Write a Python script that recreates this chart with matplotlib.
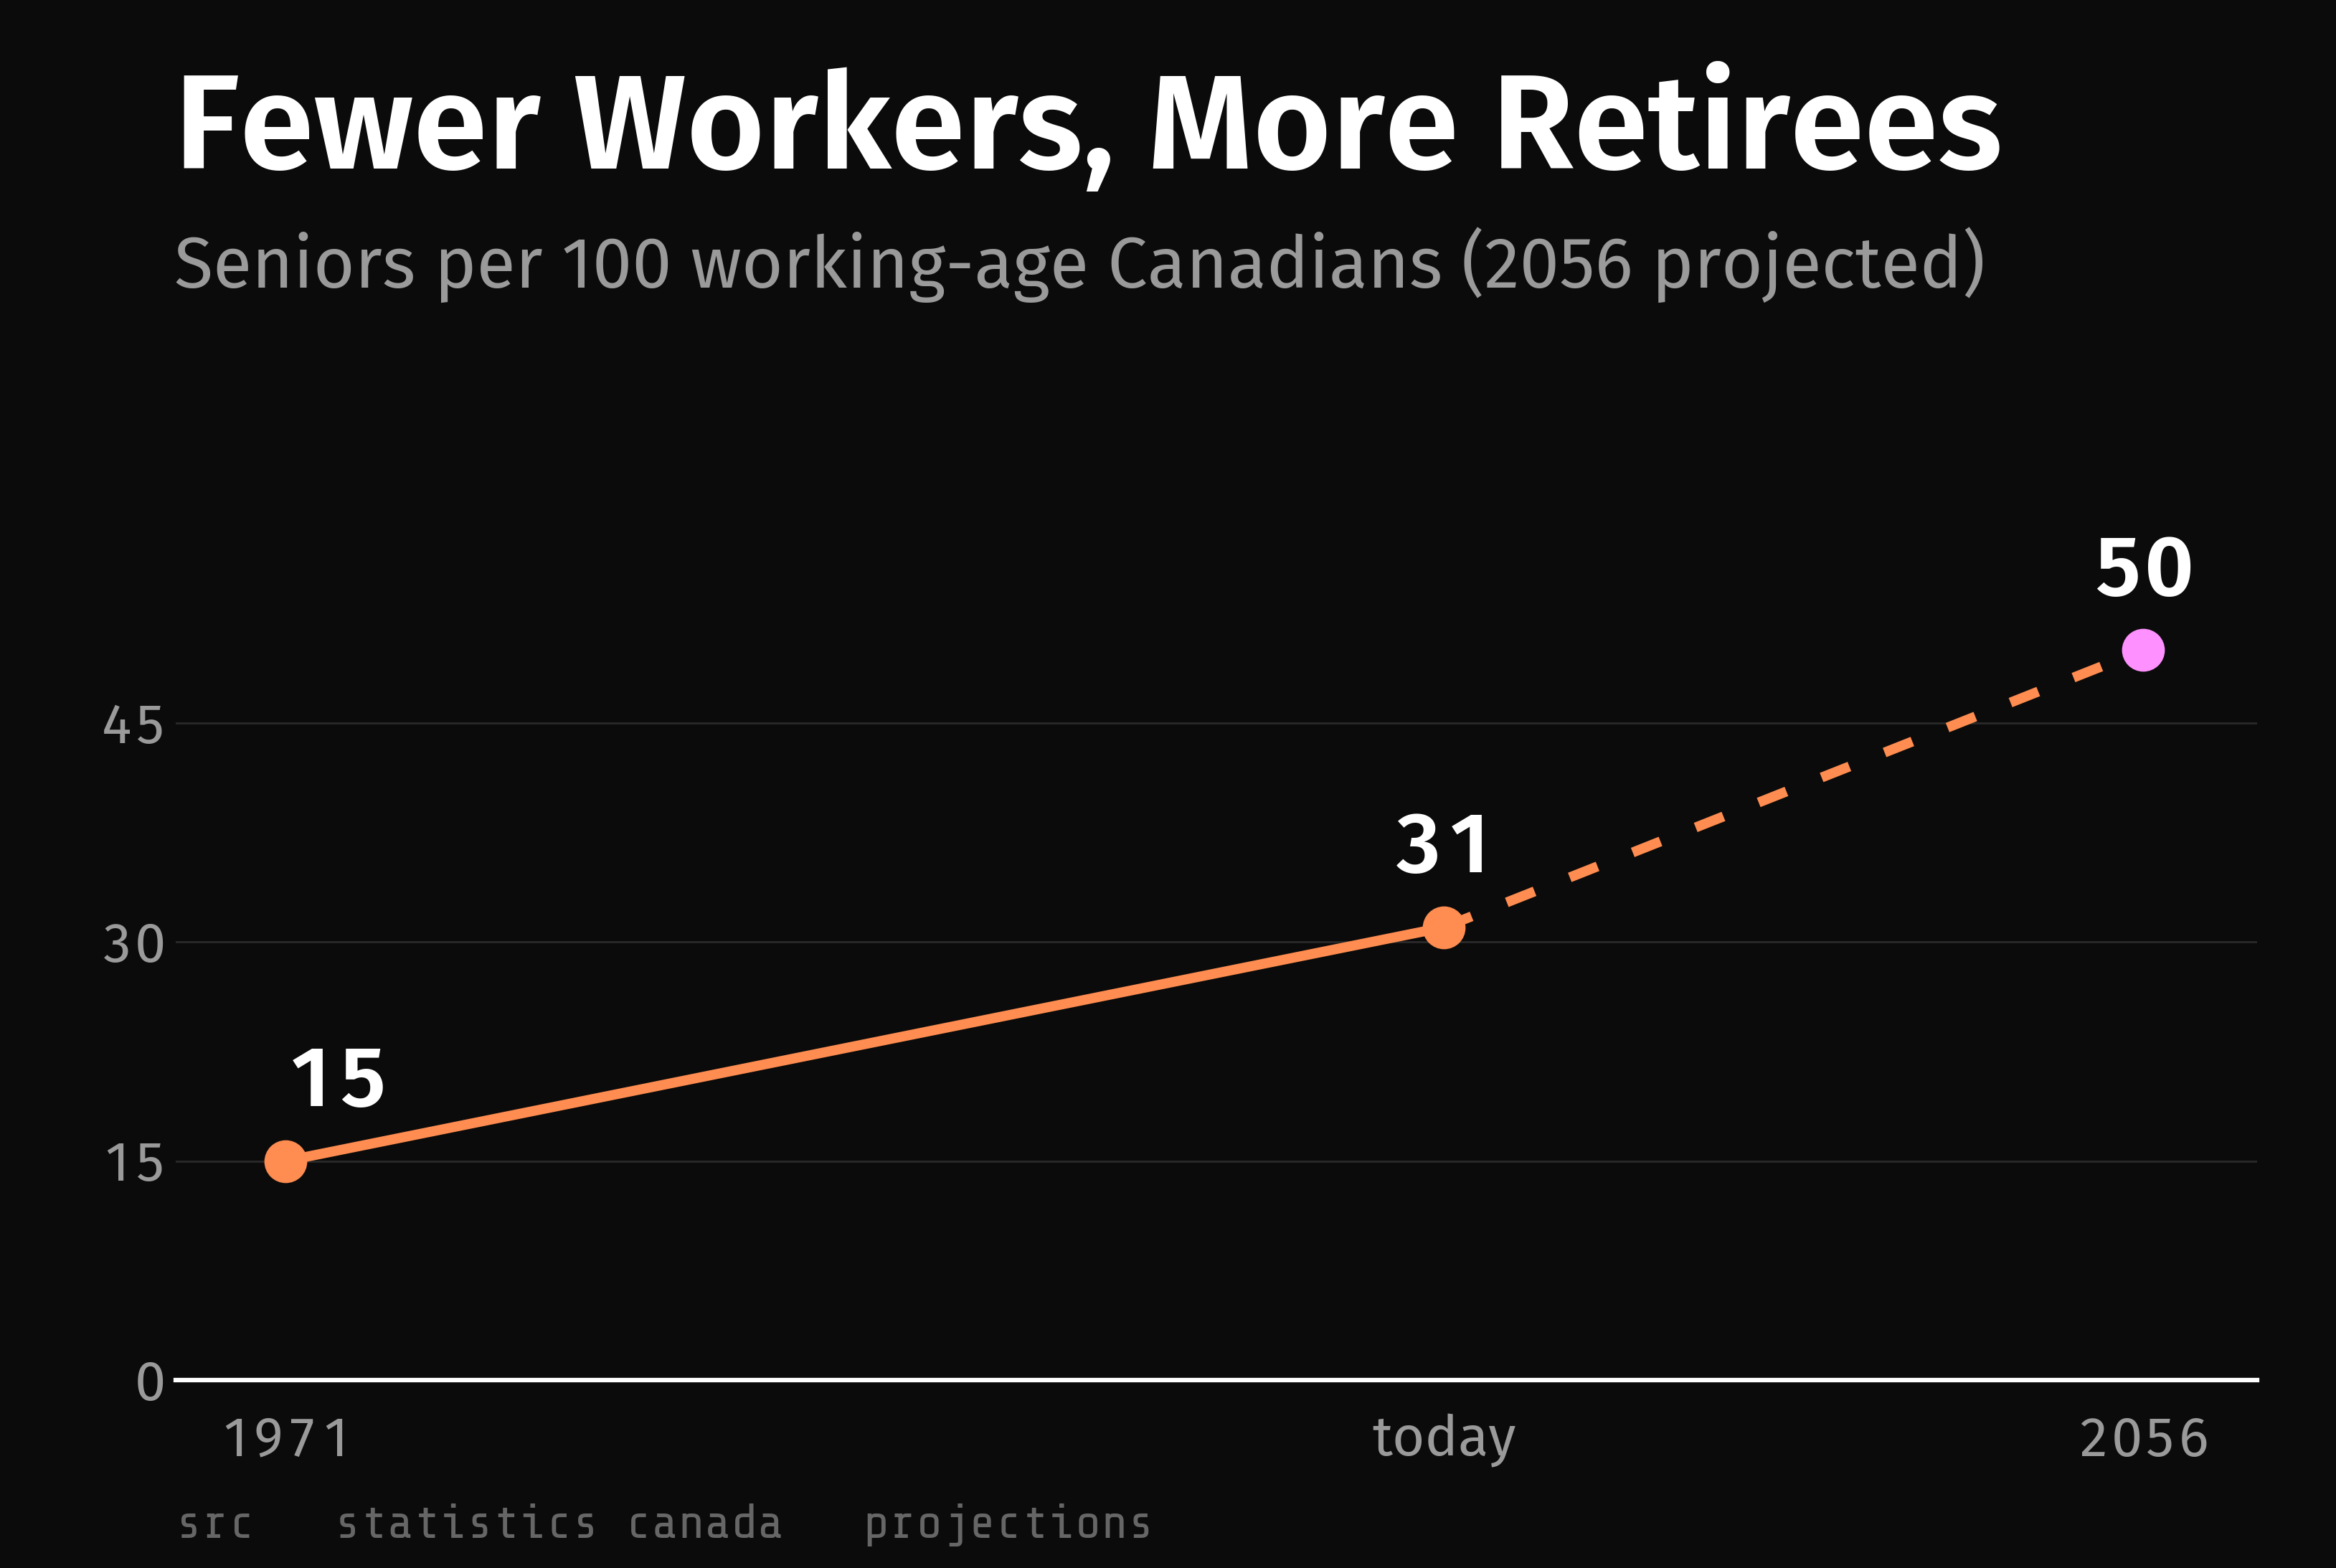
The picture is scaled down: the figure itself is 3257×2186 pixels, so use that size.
import matplotlib
matplotlib.use("Agg")
import matplotlib.pyplot as plt

# data
years = [1971, 2024, 2056]
xlabels = ["1971", "today", "2056"]
ratio = [15, 31, 50]
yticks = [0, 15, 30, 45]

bg = "#0b0b0b"
orange = "#ff8c50"
pink = "#ff90ff"
grey = "#9a9a9a"
sans = ["Fira Sans", "Noto Sans", "DejaVu Sans"]
mono = ["Share Tech Mono", "DejaVu Sans Mono"]


def tab_text(ax, s, xy, xycoords, dx, dy, ha, size, **kw):
    # digits in equal-width cells (tabular figures)
    cell = 0.6 * size
    n = len(s)
    for i, ch in enumerate(s):
        if ha == "left":
            off = (i + 0.5) * cell
        elif ha == "right":
            off = -(n - i - 0.5) * cell
        else:
            off = (i - (n - 1) / 2) * cell
        ax.annotate(ch, xy, xycoords=xycoords, xytext=(dx + off, dy),
                    textcoords="offset points", ha="center", va="baseline",
                    fontsize=size, family=sans, annotation_clip=False, **kw)


fig = plt.figure(figsize=(32.57, 21.86), dpi=100, facecolor=bg)
ax = fig.add_axes([0.0753, 0.1198, 0.8909, 0.5589])
ax.set_facecolor(bg)

# history (solid) and projection (dashed)
ax.plot(years[:2], ratio[:2], color=orange, lw=10, solid_capstyle="butt", zorder=3)
ax.plot(years[1:], ratio[1:], color=orange, lw=10, ls=(0, (3, 3.8)),
        dash_capstyle="butt", zorder=3)
ax.plot(years[:2], ratio[:2], "o", color=orange, ms=42, zorder=4)
ax.plot(years[2:], ratio[2:], "o", color=pink, ms=42, zorder=4)

for i, (x, y) in enumerate(zip(years, ratio)):
    ha = "left" if i == 0 else "center"
    tab_text(ax, str(y), (x, y), "data", 0, 55, ha, 86,
             color="white", fontweight="semibold")

ax.set_xlim(1966, 2061.2)
ax.set_ylim(0, 60)
ax.set_xticks(years)
ax.set_yticks(yticks)
ax.tick_params(length=0, labelbottom=False, labelleft=False)

# tick labels
for v in yticks:
    tab_text(ax, str(v), (0, v), ("axes fraction", "data"), -9, -20, "right", 56,
             color=grey)
for x, lab in zip(years, xlabels):
    if lab.isdigit():
        tab_text(ax, lab, (x, 0), ("data", "axes fraction"), 0, -76, "center", 56,
                 color=grey)
    else:
        ax.annotate(lab, (x, 0), xycoords=("data", "axes fraction"), xytext=(0, -76),
                    textcoords="offset points", ha="center", va="baseline",
                    fontsize=56, family=sans, color=grey, annotation_clip=False)

ax.grid(axis="y", color="#2a2a2a", lw=2)
ax.set_axisbelow(True)
for s in ["top", "right", "left"]:
    ax.spines[s].set_visible(False)
ax.spines["bottom"].set_color("white")
ax.spines["bottom"].set_linewidth(4.5)
ax.spines["bottom"].set_zorder(5)

title = fig.text(0.0745, 0.8926, "Fewer Workers, More Retirees", color="white",
                 fontsize=133, fontweight="semibold", family=sans, va="baseline")
sub = fig.text(0.0745, 0.8165, "Seniors per 100 working-age Canadians (2056 projected)",
               color=grey, fontsize=72, family=sans, va="baseline")
foot = fig.text(0.0753, 0.019, "src   statistics canada   projections", color="#666666",
                fontsize=48, family=mono, va="baseline")

# scale the header / footer texts to the widths they take in the layout
r = fig.canvas.get_renderer()
for t, w in [(title, 2549), (sub, 2528), (foot, 1365)]:
    cur = t.get_window_extent(r).width
    t.set_fontsize(t.get_fontsize() * w / cur)

fig.savefig("out.png", dpi=100, facecolor=bg)
